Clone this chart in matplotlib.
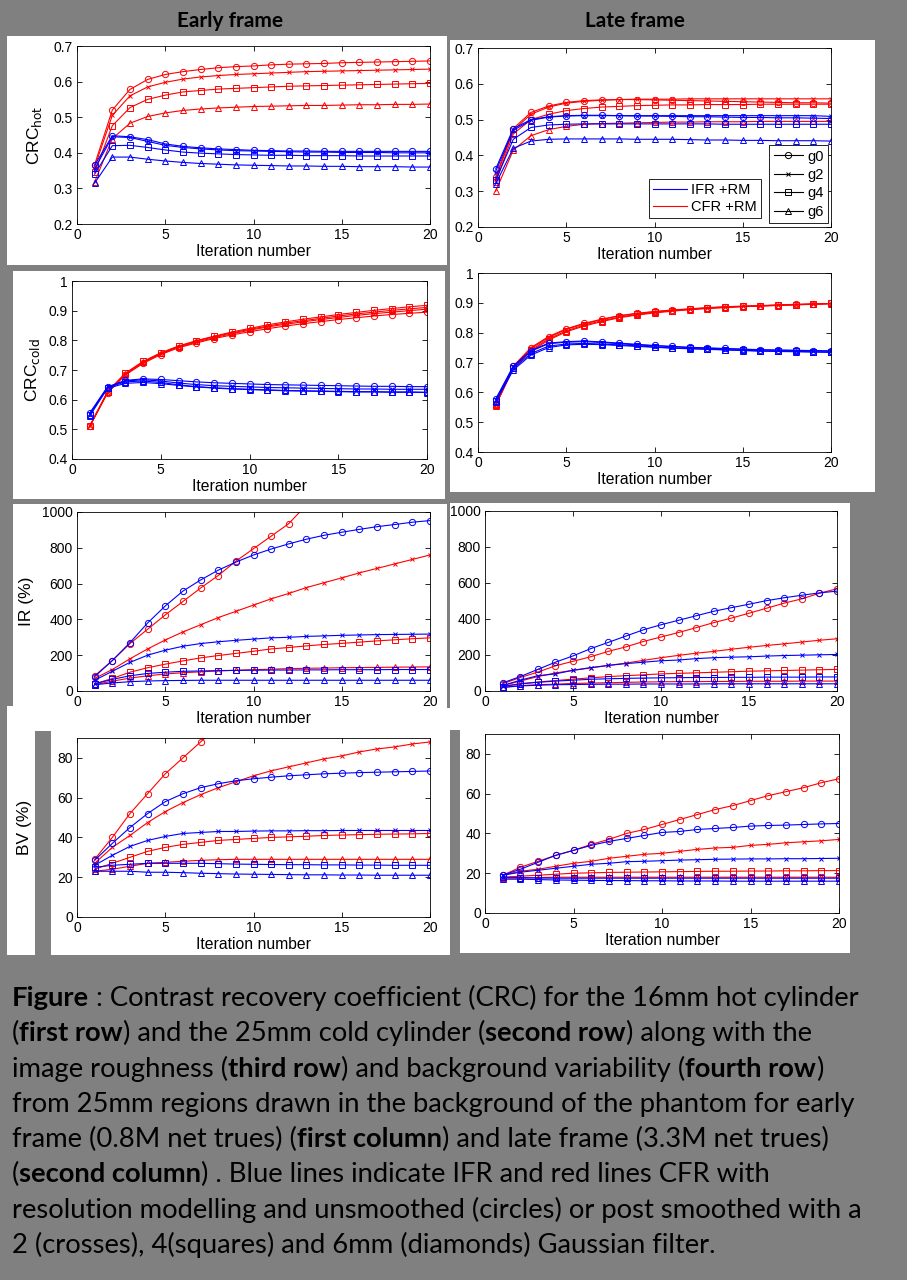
import matplotlib
matplotlib.use('Agg')
import matplotlib.pyplot as plt
from matplotlib.patches import Rectangle
from matplotlib.lines import Line2D
from matplotlib.ticker import FormatStrFormatter, MultipleLocator

W, H = 907, 1280
BG = '#808080'

iterations = list(range(1, 21))
gauss_labels = ['g0', 'g2', 'g4', 'g6']
gauss_markers = ['o', 'x', 's', '^']
method_labels = ['IFR +RM', 'CFR +RM']

# CRC hot, early frame (one list per filter g0, g2, g4, g6)
early_hot_ifr = [
    [0.365, 0.448, 0.445, 0.437, 0.425, 0.418, 0.414, 0.411, 0.409, 0.407, 0.406, 0.405, 0.405, 0.404, 0.404, 0.404, 0.404, 0.404, 0.404, 0.404],
    [0.355, 0.445, 0.443, 0.432, 0.421, 0.415, 0.411, 0.408, 0.406, 0.405, 0.404, 0.403, 0.402, 0.402, 0.401, 0.401, 0.401, 0.400, 0.400, 0.400],
    [0.340, 0.420, 0.421, 0.415, 0.408, 0.402, 0.399, 0.397, 0.395, 0.394, 0.393, 0.393, 0.392, 0.392, 0.392, 0.391, 0.391, 0.391, 0.391, 0.391],
    [0.315, 0.388, 0.388, 0.382, 0.377, 0.373, 0.370, 0.368, 0.366, 0.365, 0.364, 0.363, 0.363, 0.362, 0.362, 0.361, 0.361, 0.361, 0.360, 0.360],
]
early_hot_cfr = [
    [0.367, 0.520, 0.578, 0.606, 0.620, 0.628, 0.634, 0.639, 0.642, 0.644, 0.647, 0.649, 0.650, 0.651, 0.653, 0.654, 0.655, 0.656, 0.657, 0.658],
    [0.360, 0.505, 0.560, 0.585, 0.598, 0.607, 0.613, 0.617, 0.620, 0.622, 0.624, 0.626, 0.628, 0.629, 0.630, 0.631, 0.632, 0.633, 0.634, 0.635],
    [0.345, 0.476, 0.527, 0.550, 0.562, 0.571, 0.575, 0.579, 0.581, 0.583, 0.585, 0.587, 0.588, 0.589, 0.590, 0.591, 0.592, 0.593, 0.594, 0.595],
    [0.318, 0.440, 0.483, 0.502, 0.512, 0.519, 0.523, 0.526, 0.528, 0.530, 0.531, 0.532, 0.533, 0.533, 0.534, 0.535, 0.535, 0.536, 0.536, 0.537],
]

# CRC hot, late frame
late_hot_ifr = [
    [0.362, 0.475, 0.500, 0.508, 0.511, 0.512, 0.512, 0.511, 0.510, 0.510, 0.509, 0.508, 0.508, 0.507, 0.506, 0.506, 0.505, 0.505, 0.504, 0.503],
    [0.355, 0.470, 0.498, 0.507, 0.510, 0.511, 0.511, 0.511, 0.511, 0.511, 0.511, 0.511, 0.511, 0.511, 0.511, 0.511, 0.511, 0.511, 0.511, 0.509],
    [0.330, 0.445, 0.478, 0.485, 0.487, 0.488, 0.488, 0.488, 0.488, 0.488, 0.488, 0.488, 0.488, 0.487, 0.487, 0.487, 0.487, 0.487, 0.487, 0.487],
    [0.320, 0.420, 0.440, 0.445, 0.446, 0.446, 0.446, 0.446, 0.445, 0.445, 0.445, 0.444, 0.443, 0.443, 0.442, 0.442, 0.441, 0.441, 0.441, 0.440],
]
late_hot_cfr = [
    [0.340, 0.475, 0.520, 0.538, 0.548, 0.553, 0.555, 0.556, 0.556, 0.555, 0.554, 0.553, 0.552, 0.551, 0.550, 0.549, 0.548, 0.547, 0.547, 0.546],
    [0.335, 0.470, 0.515, 0.535, 0.546, 0.551, 0.554, 0.556, 0.557, 0.557, 0.557, 0.558, 0.558, 0.558, 0.558, 0.558, 0.558, 0.558, 0.558, 0.558],
    [0.325, 0.460, 0.500, 0.515, 0.525, 0.531, 0.535, 0.537, 0.539, 0.540, 0.541, 0.541, 0.542, 0.542, 0.542, 0.543, 0.543, 0.543, 0.543, 0.543],
    [0.300, 0.415, 0.455, 0.472, 0.481, 0.487, 0.489, 0.490, 0.491, 0.492, 0.493, 0.493, 0.494, 0.494, 0.494, 0.495, 0.495, 0.495, 0.495, 0.495],
]

# CRC cold, early frame
early_cold_ifr = [
    [0.555, 0.643, 0.665, 0.670, 0.668, 0.664, 0.660, 0.657, 0.655, 0.653, 0.651, 0.650, 0.649, 0.648, 0.647, 0.646, 0.645, 0.645, 0.644, 0.644],
    [0.553, 0.642, 0.663, 0.667, 0.663, 0.656, 0.651, 0.647, 0.645, 0.643, 0.641, 0.640, 0.639, 0.638, 0.637, 0.636, 0.636, 0.635, 0.635, 0.635],
    [0.550, 0.640, 0.660, 0.663, 0.658, 0.650, 0.644, 0.640, 0.637, 0.635, 0.633, 0.631, 0.630, 0.629, 0.628, 0.627, 0.627, 0.626, 0.626, 0.625],
    [0.545, 0.638, 0.655, 0.658, 0.654, 0.648, 0.643, 0.639, 0.636, 0.634, 0.632, 0.630, 0.629, 0.628, 0.627, 0.626, 0.626, 0.625, 0.625, 0.624],
]
early_cold_cfr = [
    [0.510, 0.622, 0.683, 0.722, 0.752, 0.775, 0.791, 0.806, 0.818, 0.829, 0.839, 0.848, 0.856, 0.863, 0.870, 0.876, 0.882, 0.887, 0.891, 0.895],
    [0.510, 0.624, 0.685, 0.725, 0.754, 0.777, 0.794, 0.809, 0.822, 0.834, 0.845, 0.854, 0.862, 0.870, 0.877, 0.884, 0.890, 0.895, 0.900, 0.905],
    [0.512, 0.627, 0.689, 0.729, 0.758, 0.781, 0.799, 0.814, 0.828, 0.840, 0.852, 0.862, 0.871, 0.879, 0.887, 0.894, 0.901, 0.907, 0.913, 0.918],
    [0.511, 0.626, 0.688, 0.727, 0.756, 0.779, 0.797, 0.812, 0.825, 0.837, 0.848, 0.858, 0.866, 0.874, 0.882, 0.889, 0.895, 0.901, 0.906, 0.911],
]

# CRC cold, late frame
late_cold_ifr = [
    [0.577, 0.688, 0.740, 0.765, 0.770, 0.772, 0.769, 0.765, 0.761, 0.757, 0.754, 0.751, 0.749, 0.747, 0.745, 0.743, 0.742, 0.741, 0.740, 0.739],
    [0.575, 0.686, 0.738, 0.763, 0.768, 0.770, 0.767, 0.763, 0.759, 0.756, 0.753, 0.750, 0.748, 0.746, 0.744, 0.742, 0.741, 0.740, 0.739, 0.738],
    [0.570, 0.680, 0.730, 0.755, 0.762, 0.764, 0.762, 0.759, 0.756, 0.752, 0.749, 0.747, 0.745, 0.743, 0.741, 0.739, 0.738, 0.737, 0.736, 0.735],
    [0.568, 0.675, 0.725, 0.750, 0.759, 0.761, 0.760, 0.757, 0.754, 0.751, 0.748, 0.746, 0.744, 0.742, 0.740, 0.738, 0.737, 0.736, 0.735, 0.734],
]
late_cold_cfr = [
    [0.560, 0.688, 0.750, 0.787, 0.813, 0.831, 0.845, 0.857, 0.865, 0.871, 0.876, 0.880, 0.884, 0.887, 0.889, 0.891, 0.893, 0.895, 0.896, 0.898],
    [0.558, 0.686, 0.747, 0.784, 0.811, 0.829, 0.844, 0.856, 0.864, 0.870, 0.875, 0.879, 0.883, 0.886, 0.888, 0.890, 0.892, 0.894, 0.896, 0.897],
    [0.556, 0.683, 0.742, 0.779, 0.806, 0.825, 0.840, 0.852, 0.861, 0.868, 0.874, 0.878, 0.882, 0.885, 0.888, 0.890, 0.892, 0.894, 0.896, 0.898],
    [0.555, 0.680, 0.738, 0.775, 0.803, 0.822, 0.837, 0.850, 0.859, 0.866, 0.872, 0.877, 0.881, 0.884, 0.887, 0.889, 0.891, 0.893, 0.895, 0.897],
]

# image roughness IR (%), early frame
early_ir_ifr = [
    [80, 170, 270, 380, 475, 558, 620, 675, 720, 760, 793, 822, 848, 870, 887, 903, 918, 930, 943, 952],
    [60, 110, 160, 200, 228, 250, 265, 275, 283, 290, 297, 300, 305, 308, 311, 313, 315, 316, 317, 318],
    [40, 65, 85, 98, 105, 110, 112, 114, 115, 116, 117, 117, 118, 118, 119, 119, 119, 120, 120, 120],
    [35, 45, 52, 56, 58, 59, 60, 60, 60, 60, 60, 60, 60, 60, 60, 60, 60, 60, 60, 60],
]
early_ir_cfr = [
    [85, 170, 265, 345, 425, 500, 575, 645, 725, 795, 865, 935, 1040],
    [70, 120, 180, 235, 285, 330, 370, 410, 445, 480, 515, 545, 578, 605, 632, 660, 685, 710, 735, 760],
    [40, 70, 105, 130, 150, 168, 185, 198, 210, 222, 235, 243, 252, 260, 266, 273, 280, 286, 292, 297],
    [35, 55, 72, 85, 95, 102, 107, 112, 116, 119, 122, 125, 127, 128, 130, 131, 132, 133, 134, 135],
]

# image roughness IR (%), late frame
late_ir_ifr = [
    [45, 80, 120, 160, 195, 235, 270, 305, 340, 368, 393, 418, 443, 463, 482, 502, 518, 532, 545, 555],
    [30, 60, 85, 95, 115, 130, 142, 152, 160, 168, 172, 180, 185, 188, 190, 194, 197, 199, 201, 203],
    [25, 40, 48, 55, 60, 65, 68, 70, 72, 73, 74, 75, 75, 76, 76, 77, 77, 77, 78, 78],
    [20, 28, 32, 35, 36, 37, 38, 38, 39, 39, 39, 39, 40, 40, 40, 40, 40, 40, 40, 40],
]
late_ir_cfr = [
    [40, 75, 105, 140, 165, 190, 220, 245, 275, 300, 325, 352, 380, 405, 432, 460, 488, 512, 543, 568],
    [30, 55, 80, 100, 115, 128, 142, 155, 170, 185, 198, 210, 220, 232, 243, 253, 262, 272, 282, 290],
    [25, 40, 50, 58, 66, 73, 80, 85, 90, 95, 98, 101, 104, 107, 110, 112, 114, 116, 118, 120],
    [20, 30, 35, 38, 42, 44, 46, 48, 50, 51, 52, 52, 53, 53, 54, 54, 54, 55, 55, 55],
]

# background variability BV (%), early frame
early_bv_ifr = [
    [28.5, 37, 45, 52, 58, 62, 65, 67, 68.5, 69.5, 70.3, 71, 71.5, 72, 72.3, 72.6, 72.8, 73, 73.2, 73.4],
    [26, 31, 35.5, 38.5, 40.5, 42, 42.5, 43, 43, 43.2, 43.3, 43.3, 43.4, 43.4, 43.5, 43.5, 43.5, 43.5, 43.5, 43.5],
    [25, 26, 26.5, 27, 27, 27, 27, 26.8, 26.6, 26.5, 26.4, 26.3, 26.3, 26.2, 26.2, 26.1, 26.1, 26, 26, 26],
    [23, 23, 23, 22.5, 22.5, 22.3, 22, 21.8, 21.6, 21.5, 21.4, 21.3, 21.2, 21.2, 21.1, 21.1, 21, 21, 21, 21],
]
early_bv_cfr = [
    [29, 40, 52, 62, 72, 80, 88, 96],
    [27, 35, 41, 47.5, 53, 57.5, 61.5, 65, 68, 71, 73.5, 75.5, 77.5, 79.5, 81, 83, 84.5, 85.5, 87, 88],
    [24, 27, 30, 33, 35, 36.5, 37.5, 38.5, 39, 39.5, 40, 40.3, 40.6, 41, 41.2, 41.4, 41.6, 41.7, 41.8, 42],
    [23, 24, 25.5, 27, 27.5, 28, 28.5, 28.8, 29, 29, 29, 29, 29, 29, 29, 29, 29, 29, 29, 29],
]

# background variability BV (%), late frame
late_bv_ifr = [
    [19, 22, 25.5, 29, 31.5, 34, 36, 37.5, 39, 40.5, 41, 42, 42.5, 43, 43.7, 44, 44.2, 44.5, 44.8, 45],
    [19, 20.5, 21.5, 22.5, 23.5, 24.5, 25, 25.8, 26, 26.3, 26.6, 26.8, 27, 27.1, 27.2, 27.2, 27.3, 27.3, 27.4, 27.5],
    [18, 17.8, 17.6, 17.5, 17.5, 17.5, 17.5, 17.5, 17.5, 17.5, 17.5, 17.5, 17.5, 17.5, 17.5, 17.5, 17.5, 17.5, 17.5, 17.5],
    [17, 17, 16.8, 16.6, 16.5, 16.4, 16.3, 16.3, 16.2, 16.2, 16.1, 16.1, 16.1, 16, 16, 16, 16, 16, 16, 16],
]
late_bv_cfr = [
    [19, 23, 26, 29, 31.5, 34.5, 37, 40, 42, 44.5, 47, 49.5, 52, 54, 56.5, 59, 61, 63, 65.5, 67.5],
    [19, 21, 22, 23.5, 25, 26, 27.5, 28.5, 29.5, 30, 31, 32, 32.7, 33, 34, 34.5, 35.3, 35.8, 36.3, 37],
    [18, 18.5, 19, 19.5, 20, 20.2, 20.4, 20.5, 20.6, 20.7, 20.8, 20.9, 21, 21, 21.1, 21.1, 21.2, 21.2, 21.3, 21.3],
    [17.5, 17.5, 17.8, 18, 18, 18, 18, 18, 18, 18, 18, 18, 18, 18, 18, 18, 18, 18, 18, 18],
]

caption_lines = [
    [('Figure', True), (' : Contrast recovery coefficient (CRC) for the 16mm hot cylinder', False)],
    [('(', False), ('first row', True), (') and the 25mm cold cylinder (', False), ('second row', True), (') along with the', False)],
    [('image roughness (', False), ('third row', True), (') and background variability (', False), ('fourth row', True), (')', False)],
    [('from 25mm regions drawn in the background of the phantom for early', False)],
    [('frame (0.8M net trues) (', False), ('first column', True), (') and late frame (3.3M net trues)', False)],
    [('(', False), ('second column', True), (') . Blue lines indicate IFR and red lines CFR with', False)],
    [('resolution modelling and unsmoothed (circles) or post smoothed with a', False)],
    [('2 (crosses), 4(squares) and 6mm (diamonds) Gaussian filter.', False)],
]

TICK_FONT = 'Liberation Sans'
TEXT_FONT = 'Lato'


def px_rect(fig, x0, y0, x1, y1, color='white'):
    # rectangle given in pixels from the top-left corner
    fig.add_artist(Rectangle((x0 / W, 1 - y1 / H), (x1 - x0) / W, (y1 - y0) / H,
                             transform=fig.transFigure, facecolor=color,
                             edgecolor='none', zorder=0))


def px_axes(fig, x0, y0, x1, y1):
    ax = fig.add_axes([x0 / W, 1 - y1 / H, (x1 - x0) / W, (y1 - y0) / H])
    ax.px_box = (x0, x1)
    return ax


def draw_panel(ax, ifr, cfr, ylim, ystep, ylabel=None, label_x=None):
    for series, color in ((cfr, 'r'), (ifr, 'b')):
        for vals, marker in zip(series, gauss_markers):
            ms = 3.5 if marker == 'x' else 4.5
            ax.plot(iterations[:len(vals)], vals, color=color, marker=marker, ms=ms,
                    mfc='none', mew=0.7, lw=0.8)
    ax.set_xlim(0, 20)
    ax.set_ylim(*ylim)
    ax.xaxis.set_major_locator(MultipleLocator(5))
    ax.yaxis.set_major_locator(MultipleLocator(ystep))
    ax.yaxis.set_major_formatter(FormatStrFormatter('%g'))
    ax.tick_params(direction='in', top=True, right=True, length=3.5, width=0.6,
                   labelsize=10, pad=3)
    for lab in ax.get_xticklabels() + ax.get_yticklabels():
        lab.set_family(TICK_FONT)
    for sp in ax.spines.values():
        sp.set_linewidth(0.6)
    ax.set_xlabel('Iteration number', family=TICK_FONT, fontsize=11.3, labelpad=1)
    if ylabel:
        ax.set_ylabel(ylabel, family=TICK_FONT, fontsize=12.5, va='center')
        # centre of the y label, pixels from the figure's left edge
        x0, x1 = ax.px_box
        ax.yaxis.set_label_coords((label_x - x0) / (x1 - x0), 0.5)


def add_legends(ax):
    method_handles = [Line2D([], [], color=c, lw=0.8) for c in ('b', 'r')]
    gauss_handles = [Line2D([], [], color='k', lw=0.8, marker=m, mfc='none', mew=0.7,
                            ms=3.5 if m == 'x' else 4.5) for m in gauss_markers]
    common = dict(fancybox=False, edgecolor='k', framealpha=1, borderaxespad=0,
                  prop={'family': TICK_FONT, 'size': 10.5}, handletextpad=0.3,
                  borderpad=0.3, loc='lower right')
    leg1 = ax.legend(method_handles, method_labels, bbox_to_anchor=(0.802, 0.05),
                     handlelength=2.3, labelspacing=0.15, **common)
    leg1.get_frame().set_linewidth(0.6)
    ax.add_artist(leg1)
    leg2 = ax.legend(gauss_handles, gauss_labels, bbox_to_anchor=(0.992, 0.022),
                     handlelength=2.0, labelspacing=0.3, **common)
    leg2.get_frame().set_linewidth(0.6)


def draw_caption(fig):
    renderer = fig.canvas.get_renderer()

    def width_of(s, bold, size):
        t = fig.text(0, 0, s, family=TEXT_FONT, fontsize=size,
                     weight='bold' if bold else 'normal')
        w = t.get_window_extent(renderer).width
        t.remove()
        return w

    # fit the first caption line to the width it has in the picture
    size = 17
    space = width_of('a a', False, size) - width_of('aa', False, size)
    first = width_of('Figure', True, size) + space
    first += width_of(caption_lines[0][1][0].strip(), False, size)
    size = size * 848 / first
    space = width_of('a a', False, size) - width_of('aa', False, size)

    for i, segments in enumerate(caption_lines):
        x = 12
        y = 1006 + 35.3 * i
        for text, bold in segments:
            x += (len(text) - len(text.lstrip(' '))) * space
            body = text.strip(' ')
            t = fig.text(x / W, 1 - y / H, body, family=TEXT_FONT, fontsize=size,
                         weight='bold' if bold else 'normal', va='baseline', color='black')
            x += t.get_window_extent(renderer).width
            x += (len(text) - len(text.rstrip(' '))) * space


def make_figure():
    fig = plt.figure(figsize=(W / 100, H / 100), dpi=100)
    fig.patch.set_facecolor(BG)

    # white panels behind the plots
    px_rect(fig, 7, 36, 447, 265)
    px_rect(fig, 450, 40, 875, 492)
    px_rect(fig, 13, 271, 445, 499)
    px_rect(fig, 13, 504, 447, 708)
    px_rect(fig, 7, 706, 436, 730)
    px_rect(fig, 450, 503, 850, 730)
    px_rect(fig, 7, 708, 450, 955)
    px_rect(fig, 35, 731, 51, 958, color=BG)
    px_rect(fig, 460, 728, 850, 953)

    fig.text(230 / W, 1 - 21 / H, 'Early frame', ha='center', va='center',
             family=TEXT_FONT, weight='bold', fontsize=15)
    fig.text(635 / W, 1 - 21 / H, 'Late frame', ha='center', va='center',
             family=TEXT_FONT, weight='bold', fontsize=15)

    ax = px_axes(fig, 77, 46, 430, 224)
    draw_panel(ax, early_hot_ifr, early_hot_cfr, (0.2, 0.7), 0.1, r'CRC$_{\mathrm{hot}}$', 35)
    ax = px_axes(fig, 478, 48, 831, 227)
    draw_panel(ax, late_hot_ifr, late_hot_cfr, (0.2, 0.7), 0.1)
    add_legends(ax)

    ax = px_axes(fig, 72, 281, 427, 459)
    draw_panel(ax, early_cold_ifr, early_cold_cfr, (0.4, 1.0), 0.1, r'CRC$_{\mathrm{cold}}$', 33)
    ax = px_axes(fig, 478, 273, 831, 452)
    draw_panel(ax, late_cold_ifr, late_cold_cfr, (0.4, 1.0), 0.1)

    ax = px_axes(fig, 77, 512, 430, 691)
    draw_panel(ax, early_ir_ifr, early_ir_cfr, (0, 1000), 200, 'IR (%)', 27)
    ax = px_axes(fig, 485, 511, 837, 691)
    draw_panel(ax, late_ir_ifr, late_ir_cfr, (0, 1000), 200)

    ax = px_axes(fig, 77, 738, 430, 917)
    draw_panel(ax, early_bv_ifr, early_bv_cfr, (0, 90), 20, 'BV (%)', 25)
    ax = px_axes(fig, 485, 734, 839, 913)
    draw_panel(ax, late_bv_ifr, late_bv_cfr, (0, 90), 20)

    draw_caption(fig)
    fig.savefig('out.png', dpi=100, facecolor=BG)


if __name__ == '__main__':
    make_figure()
